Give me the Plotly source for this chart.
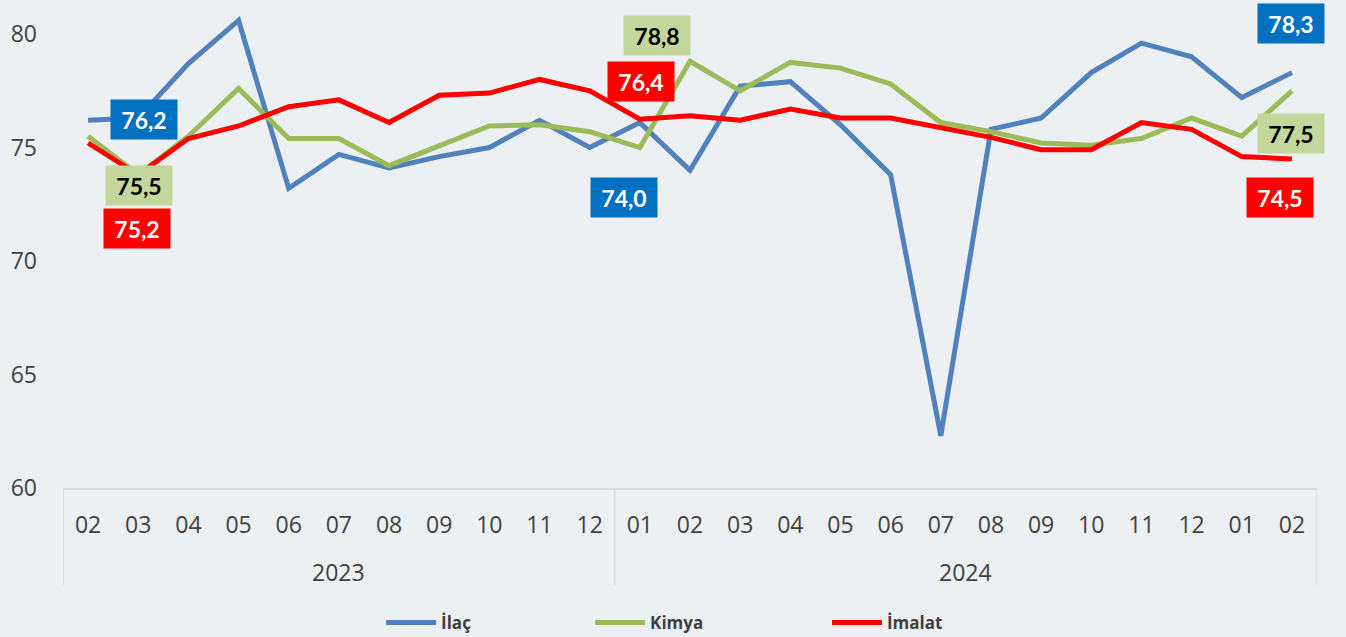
import plotly.graph_objects as go

months = ["02", "03", "04", "05", "06", "07", "08", "09", "10", "11", "12",
          "01", "02", "03", "04", "05", "06", "07", "08", "09", "10", "11", "12", "01", "02"]
years = ["2023", "2024"]
year_spans = [(0, 10), (11, 24)]

ilac = [76.2, 76.3, 78.7, 80.6, 73.2, 74.7, 74.1, 74.6, 75.0, 76.2, 75.0,
        76.1, 74.0, 77.7, 77.9, 76.0, 73.8, 62.3, 75.8, 76.3, 78.3, 79.6, 79.0, 77.2, 78.3]
kimya = [75.5, 73.8, 75.5, 77.6, 75.4, 75.4, 74.2, 75.1, 75.95, 76.0, 75.7,
         75.0, 78.8, 77.5, 78.75, 78.5, 77.8, 76.1, 75.7, 75.2, 75.1, 75.4, 76.3, 75.5, 77.5]
imalat = [75.2, 73.8, 75.4, 75.95, 76.8, 77.1, 76.1, 77.3, 77.4, 78.0, 77.5,
          76.25, 76.4, 76.2, 76.7, 76.3, 76.3, 75.9, 75.45, 74.9, 74.9, 76.1, 75.8, 74.6, 74.5]

names = ["İlaç", "Kimya", "İmalat"]
colors = ["#4F81BD", "#9BBB59", "#FF0000"]
box_colors = ["#0070C0", "#C3D69B", "#FF0000"]
text_colors = ["white", "black", "white"]
label_idx = [0, 12, 24]
# pixel offsets for the value labels: per series, per labelled index
offsets = [
    [(56, 1), (-66, -27), (-1, 49)],
    [(51, -49), (-33, 26), (-1, -43)],
    [(49, -85), (-49, 34), (-12, -39)],
]
legend_x = [0.2831, 0.4384, 0.6144]

FONT = "'Open Sans', sans-serif"
LFONT = "Lato, 'Open Sans', sans-serif"
TICK = dict(family=FONT, size=23, color="#404040")
x = list(range(len(months)))
fig = go.Figure()
series = [ilac, kimya, imalat]
legend_ids = ["legend", "legend2", "legend3"]
for s, name, c, lg in zip(series, names, colors, legend_ids):
    fig.add_trace(go.Scatter(x=x, y=s, name=name, mode="lines", legend=lg,
                             line=dict(color=c, width=5)))

def fmt(v):
    return f"{v:.1f}".replace(".", ",")

for si, s in enumerate(series):
    for k, idx in enumerate(label_idx):
        dx, dy = offsets[si][k]
        fig.add_annotation(x=idx, y=s[idx], xref="x", yref="y", text=f"<b>{fmt(s[idx])}</b>",
                           showarrow=False, xshift=dx, yshift=dy, width=64, height=37,
                           bgcolor=box_colors[si], font=dict(family=LFONT, size=23, color=text_colors[si]),
                           align="center", valign="middle")

# year labels and group dividers
for yr, (a, b) in zip(years, year_spans):
    fig.add_annotation(x=(a + b) / 2, y=-0.172, xref="x", yref="paper", text=yr, showarrow=False,
                       yanchor="middle", font=TICK)
for xv in [-0.5, 10.5, 24.5]:
    fig.add_shape(type="line", x0=xv, x1=xv, y0=0, y1=-0.199, xref="x", yref="paper",
                  line=dict(color="#D9D9D9", width=1.5))

bg = "#EDF0F2"
leg_common = dict(orientation="h", xanchor="left", xref="container", yref="container",
                  y=0.022, yanchor="middle", itemwidth=50,
                  font=dict(family=FONT, size=17, color="#404040", weight="bold"),
                  bgcolor="rgba(0,0,0,0)")
fig.update_layout(
    width=1346, height=637,
    paper_bgcolor=bg, plot_bgcolor=bg,
    margin=dict(l=62.5, r=29, t=0, b=149, autoexpand=False),
    font=dict(family=FONT, color="#404040"),
    showlegend=True,
    legend=dict(x=legend_x[0], **leg_common),
    legend2=dict(x=legend_x[1], **leg_common),
    legend3=dict(x=legend_x[2], **leg_common),
)
fig.update_xaxes(range=[-0.5, 24.5], tickmode="array", tickvals=x, ticktext=months, automargin=False,
                 showgrid=False, zeroline=False, showline=True, linecolor="#D9D9D9", linewidth=1.5,
                 ticks="", ticklabelstandoff=16, tickfont=TICK)
fig.update_yaxes(range=[60, 81.5], tickvals=[60, 65, 70, 75, 80], showgrid=False, zeroline=False,
                 automargin=False, showline=False, ticks="", ticklabelstandoff=25, tickfont=TICK)

fig.write_html("out.html", config={"displayModeBar": False},
               post_script="document.body.style.margin='0';document.body.style.overflow='hidden';")
